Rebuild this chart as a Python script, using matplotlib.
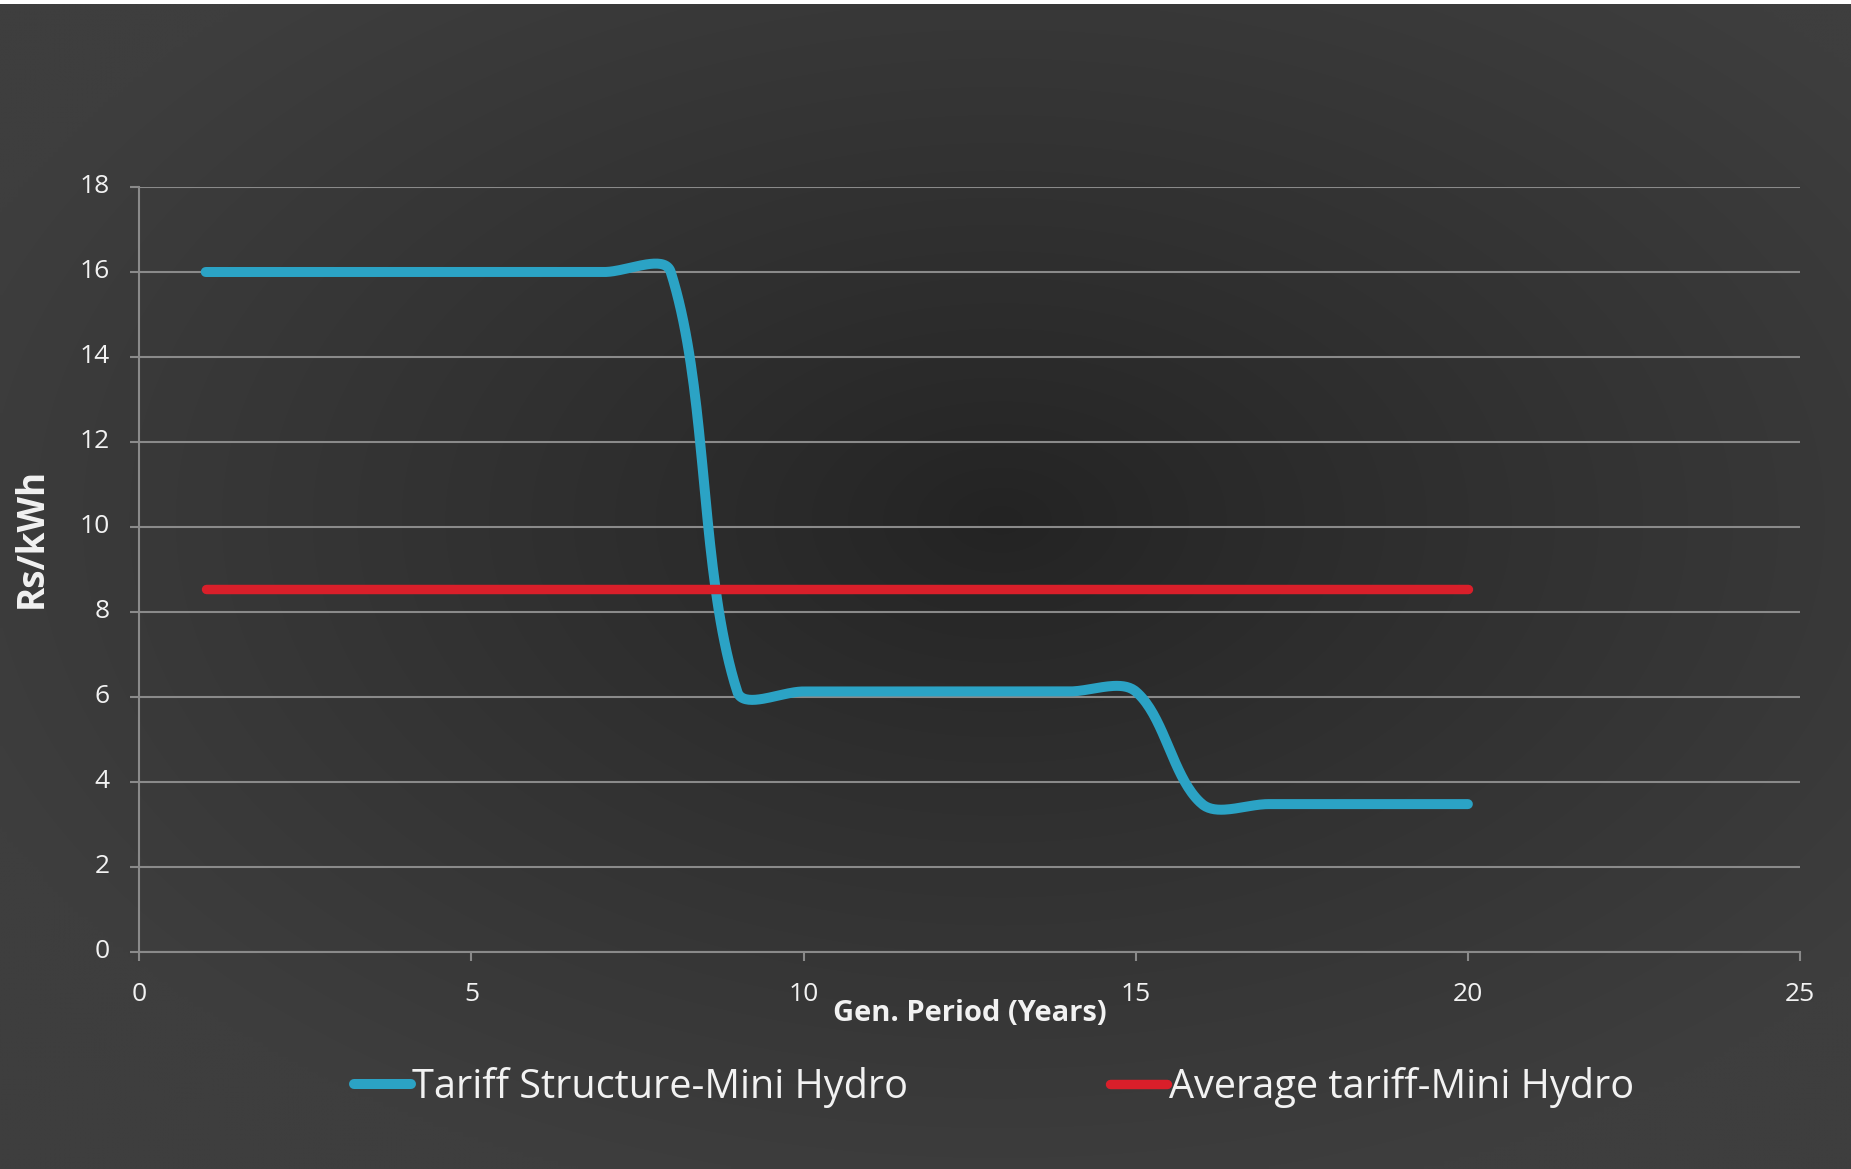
import numpy as np
import matplotlib
matplotlib.use("Agg")
import matplotlib.pyplot as plt
from matplotlib.patches import Rectangle
from matplotlib.transforms import ScaledTranslation

# data
years = [1, 2, 3, 4, 5, 6, 7, 8, 9, 10, 11, 12, 13, 14, 15, 16, 17, 18, 19, 20]
tariff_structure = [16.0, 16.0, 16.0, 16.0, 16.0, 16.0, 16.0, 16.0,
                    6.13, 6.13, 6.13, 6.13, 6.13, 6.13, 6.13,
                    3.48, 3.48, 3.48, 3.48, 3.48]
average_tariff = [8.53, 8.53, 8.53, 8.53, 8.53, 8.53, 8.53, 8.53, 8.53, 8.53,
                  8.53, 8.53, 8.53, 8.53, 8.53, 8.53, 8.53, 8.53, 8.53, 8.53]
x_ticks = [0, 5, 10, 15, 20, 25]
y_ticks = [0, 2, 4, 6, 8, 10, 12, 14, 16, 18]

BLUE = "#2ba3c5"
RED = "#d91f2a"
GRID = "#8a8a8a"
TEXT = "#f2f2f2"
NARROW = ["Liberation Sans Narrow", "Open Sans", "DejaVu Sans"]
REGULAR = ["Open Sans", "DejaVu Sans"]

W, H = 1851, 1169


def excel_smooth(ax, xs, ys, steps=40):
    """Bezier smoothing like Excel's smoothed line, done in screen pixels."""
    pts = ax.transData.transform(np.column_stack([xs, ys]))
    n = len(pts)
    out = []
    for i in range(n - 1):
        p0 = pts[i - 1] if i > 0 else pts[i]
        p1 = pts[i]
        p2 = pts[i + 1]
        p3 = pts[i + 2] if i + 2 < n else pts[i + 1]
        d01 = np.hypot(*(p1 - p0))
        d12 = np.hypot(*(p2 - p1))
        d23 = np.hypot(*(p3 - p2))
        c1 = p1 + (p2 - p0) / 3.0 * d12 / (d01 + d12)
        c2 = p2 - (p3 - p1) / 3.0 * d12 / (d12 + d23)
        t = np.linspace(0, 1, steps)[:, None]
        seg = ((1 - t) ** 3 * p1 + 3 * t * (1 - t) ** 2 * c1
               + 3 * t ** 2 * (1 - t) * c2 + t ** 3 * p2)
        out.append(seg if i == 0 else seg[1:])
    out = np.vstack(out)
    data = ax.transData.inverted().transform(out)
    return data[:, 0], data[:, 1]


fig = plt.figure(figsize=(W / 100, H / 100), dpi=100)

# radial dark background
bg = fig.add_axes([0, 0, 1, 1], zorder=-10)
gx, gy = np.meshgrid(np.linspace(0, W, 370), np.linspace(0, H, 234))
r = np.sqrt(((gx - 1000) / W) ** 2 + ((gy - 520) / H) ** 2)
shade = (0x23 + (0x3e - 0x23) * np.clip(r / 0.6, 0, 1) ** 0.85) / 255.0
bg.imshow(np.dstack([shade, shade, shade]), extent=[0, 1, 0, 1],
          aspect="auto", interpolation="bilinear", origin="upper")
bg.set_xlim(0, 1)
bg.set_ylim(0, 1)
bg.axis("off")
fig.patches.append(Rectangle((0, 1 - 4 / H), 1, 4 / H, transform=fig.transFigure,
                             facecolor="white", edgecolor="none", zorder=5))

ax = fig.add_axes([139.3 / W, 1 - 952 / H, (1800 - 139.3) / W, (952 - 187) / H])
ax.patch.set_alpha(0)
ax.set_xlim(0, 25)
ax.set_ylim(0, 18)
ax.set_xticks(x_ticks)
ax.set_yticks(y_ticks)

for side in ["top", "right"]:
    ax.spines[side].set_visible(False)
for side in ["left", "bottom"]:
    ax.spines[side].set_color(GRID)
    ax.spines[side].set_linewidth(1.5)

ax.yaxis.grid(True, color=GRID, linewidth=1.5)
ax.set_axisbelow(True)
ax.tick_params(axis="both", direction="out", length=6.5, width=1.5, color=GRID,
               labelcolor=TEXT, labelsize=19)
ax.tick_params(axis="y", pad=15)
ax.tick_params(axis="x", pad=15)
lift = ScaledTranslation(0, 3.5 / 100, fig.dpi_scale_trans)
for lab in ax.get_yticklabels():
    lab.set_family(REGULAR)
    lab.set_transform(lab.get_transform() + lift)
for lab in ax.get_xticklabels():
    lab.set_family(REGULAR)

sx, sy = excel_smooth(ax, years, tariff_structure)
ax.plot(sx, sy, color=BLUE, linewidth=7.2, solid_capstyle="round",
        label="Tariff Structure-Mini Hydro", zorder=3)
ax.plot(years, average_tariff, color=RED, linewidth=6.8, solid_capstyle="round",
        label="Average tariff-Mini Hydro", zorder=3)

ax.set_xlabel("Gen. Period (Years)", family=NARROW, fontweight="bold",
              fontsize=21, color=TEXT, va="center")
ax.xaxis.set_label_coords(0.5, -0.08)
ax.set_ylabel("Rs/kWh", family=REGULAR, fontweight="bold", fontsize=26.5,
              color=TEXT, va="center")
ax.yaxis.set_label_coords(-0.065, 0.541)

leg = ax.legend(loc="center", bbox_to_anchor=(0.537, 1 - 1087 / H),
                bbox_transform=fig.transFigure, ncol=2, frameon=False,
                handlelength=1.44, handletextpad=0.05, columnspacing=5.1,
                prop={"family": NARROW, "size": 28.5})
for text in leg.get_texts():
    text.set_color(TEXT)

fig.savefig("out.png", dpi=100)
